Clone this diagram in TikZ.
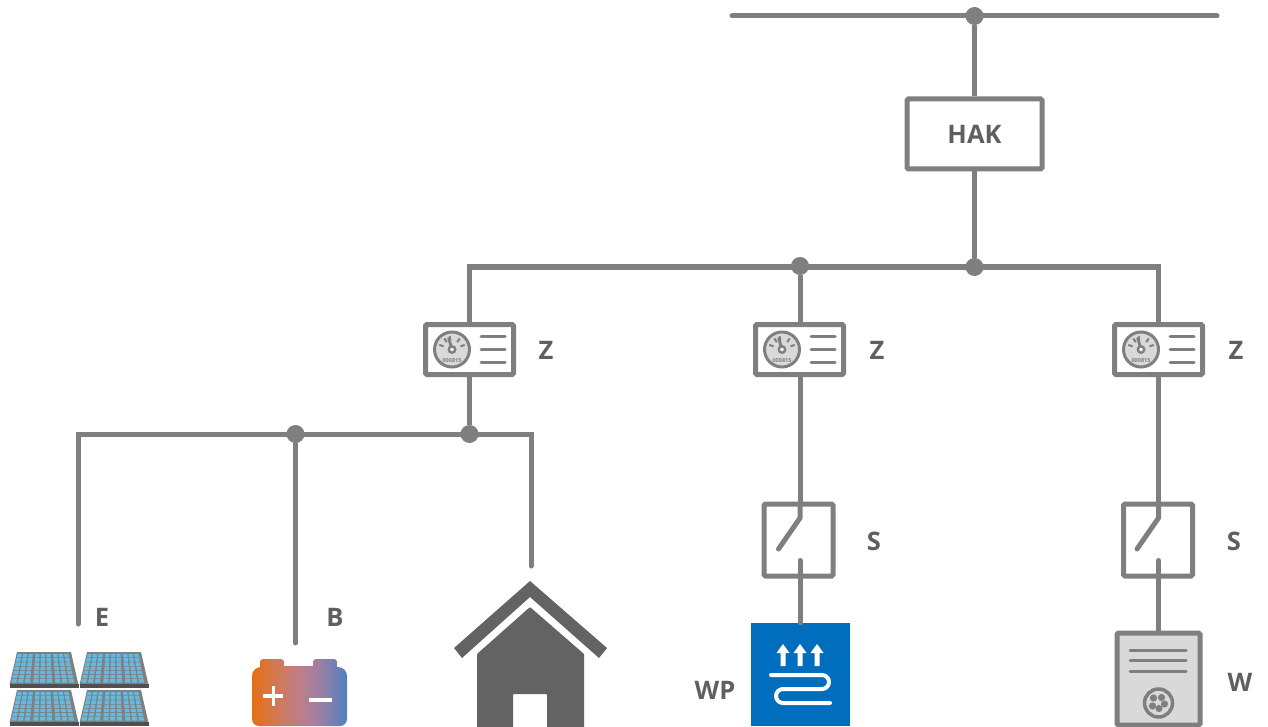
\documentclass[tikz,border=0pt]{standalone}
\usepackage{fontspec}
\usetikzlibrary{calc}
\setmainfont{Open Sans}
\definecolor{wire}{HTML}{7F7F7F}
\definecolor{txt}{HTML}{5F5F5F}
\definecolor{lightg}{HTML}{D9D9D9}
\definecolor{housec}{HTML}{636363}
\definecolor{wpblue}{HTML}{006EBD}
\definecolor{cell}{HTML}{62BBE2}
\definecolor{panelg}{HTML}{808080}
\definecolor{paneld}{HTML}{505050}
\definecolor{batta}{HTML}{E66F14}
\definecolor{battc}{HTML}{CE7A5E}
\definecolor{battm}{HTML}{BC7F88}
\definecolor{battd}{HTML}{9F7FA2}
\definecolor{battb}{HTML}{4F81BD}
\pgfdeclarehorizontalshading{battshade}{100bp}{color(0bp)=(batta); color(25bp)=(batta); color(40bp)=(battc); color(50bp)=(battm); color(60bp)=(battd); color(75bp)=(battb); color(100bp)=(battb)}
\tikzset{
  x=1pt,y=-1pt,
  wireline/.style={draw=wire,line width=5pt},
  dotnode/.style={circle,fill=wire,inner sep=0pt,minimum size=18pt},
  boxnode/.style={draw=wire,line width=5pt,rounded corners=1.5pt,fill=white,inner sep=0pt},
  lab/.style={text=txt,font=\fontsize{25.5}{28}\selectfont\bfseries,inner sep=0pt},
  thinrule/.style={draw=wire,line width=3pt,line cap=round},
  meterdial/.pic={
    \draw[draw=wire,line width=3pt,fill=lightg] (0,0) circle (17.5);
    \foreach \a in {-20,-55,-100,-125,-160}
      \draw[draw=wire,line width=2pt] (\a:13.5) -- (\a:9);
    \draw[draw=wire,line width=2.8pt] (0,0) -- (-3.5,-12);
    \draw[draw=wire,line width=2.4pt,fill=white] (0,0) circle (3.2);
    \node[text=wire,font=\fontsize{5.5}{6}\selectfont\bfseries,inner sep=0pt] at (0,11) {000815};
  },
  meterrules/.pic={
    \foreach \y in {-13,0,13}
      \draw[thinrule] (0,\y) -- (24,\y);
  },
  solarpanel/.pic={
    \fill[panelg] (7.5,0) -- (61.5,0) -- (69,33) -- (0,33) -- cycle;
    \fill[paneld] (0,32) -- (69,32) -- (69,36) -- (0,36) -- cycle;
    \foreach \r in {0,...,6}{
      \foreach \c in {0,...,8}{
        \pgfmathsetmacro{\ta}{(2+4.2*\r)/32}
        \pgfmathsetmacro{\tb}{(5.4+4.2*\r)/32}
        \pgfmathsetmacro{\ca}{\c*(6.9)+int(\c/3)*1.6+1.4}
        \pgfmathsetmacro{\cb}{\ca+5.2}
        \pgfmathsetmacro{\xa}{7.5*(1-\ta)+\ca*(54/69)*(1-\ta)+\ta*\ca}
        \pgfmathsetmacro{\xb}{7.5*(1-\ta)+\cb*(54/69)*(1-\ta)+\ta*\cb}
        \pgfmathsetmacro{\xc}{7.5*(1-\tb)+\cb*(54/69)*(1-\tb)+\tb*\cb}
        \pgfmathsetmacro{\xd}{7.5*(1-\tb)+\ca*(54/69)*(1-\tb)+\tb*\ca}
        \fill[cell] (\xa,{\ta*32}) -- (\xb,{\ta*32}) -- (\xc,{\tb*32}) -- (\xd,{\tb*32}) -- cycle;
      }
    }
  },
  uparrow/.pic={
    \fill[white] (0,0) -- (6.5,9) -- (2.5,9) -- (2.5,22) -- (-2.5,22) -- (-2.5,9) -- (-6.5,9) -- cycle;
  },
}
\begin{document}
\begin{tikzpicture}
\useasboundingbox (0,0) rectangle (1268,727);
\clip (0,0) rectangle (1268,727);

% anchors of the free ends
\coordinate (busL) at (732,16);
\coordinate (busR) at (1217,16);
\coordinate (feedL) at (469.5,267);
\coordinate (feedR) at (1158.5,267);
\coordinate (loadL) at (78,434);
\coordinate (loadR) at (531,434);
\coordinate (endE) at (78,624);
\coordinate (endB) at (295.5,643);
\coordinate (endH) at (531,566);

% nodes
\node[dotnode] (dbus) at (974.5,16) {};
\node[boxnode,minimum width=135pt,minimum height=70pt] (hak) at (974.5,134) {};
\node[dotnode] (dfeedA) at (974.5,267) {};
\node[dotnode] (dfeedB) at (800,266) {};
\node[dotnode] (dloadA) at (295.5,434) {};
\node[dotnode] (dloadB) at (469.5,434) {};

% connectors
\draw[wireline,line cap=round] (busL) -- (busR);
\draw[wireline] (dbus) -- (hak);
\draw[wireline] (hak) -- (dfeedA);
\draw[wireline] (469.5,349) -- (feedL) -- (feedR) -- (1158.5,349);
\draw[wireline] (dfeedB) -- (800,349);
\draw[wireline] (469.5,349) -- (dloadB);
\draw[wireline,line cap=round] (endE) -- (loadL) -- (loadR) -- (endH);
\draw[wireline,line cap=round] (dloadA) -- (endB);
\draw[wireline] (800,349) -- (800,518);
\draw[wireline] (1158.5,349) -- (1158.5,518);

% meters
\foreach \n/\x in {m1/469.5,m2/799.5,m3/1158.5}{
  \node[boxnode,minimum width=88pt,minimum height=50pt] (\n) at (\x,349.5) {};
  \pic at ($(\n.center)+(-17.5,0)$) {meterdial};
  \pic at ($(\n.center)+(11.5,0)$) {meterrules};
}

% switches
\foreach \n/\bx/\x in {s1/798.5/800,s2/1158/1158.5}{
  \node[boxnode,minimum width=69pt,minimum height=72pt] (\n) at (\bx,540) {};
  \draw[draw=wire,line width=5pt,line cap=round,line join=round] (\x,503) -- (\x,518) -- (\x-21.5,549);
  \coordinate (\n-low) at (\x,560.5);
}

% heat pump
\node[fill=wpblue,inner sep=0pt,minimum width=99pt,minimum height=103pt] (wp) at (800.5,674.5) {};
\draw[wireline,line cap=round] (s1-low) -- (s1-low |- wp.north);
\foreach \x in {783,800,817} \pic at (\x,644) {uparrow};
\draw[white,line width=4pt,line cap=round,line join=round]
  (771,675) -- (822,675) arc[start angle=-90,end angle=90,radius=7] -- (783,689)
  arc[start angle=270,end angle=90,radius=7] -- (830,703);

% wall box
\node[draw=wire,fill=lightg,line width=5pt,rounded corners=1.5pt,inner sep=0pt,minimum width=83pt,minimum height=92pt] (w) at (1158.5,679) {};
\draw[wireline,line cap=round] (s2-low) -- (s2-low |- w.north);
\foreach \y in {650,660.5,671} \draw[thinrule] (1130,\y) -- (1186,\y);
\draw[draw=wire,line width=3.5pt,fill=lightg] (1158.5,703) circle (14);
\foreach \dx/\dy in {-5/-5,3/-5.5,-6/3,6/1,0.5/5.5} \fill[wire] (1158.5+\dx,703+\dy) circle (3.6);

% house
\fill[housec] (530,581) -- (607,648) -- (599,658) -- (530,597) -- (462,658) -- (454,648) -- cycle;
\fill[housec,even odd rule,rounded corners=0.8pt] (530,607) -- (584,654) -- (584,730) -- (477,730) -- (477,654) -- cycle
  (513,694) -- (547,694) -- (547,730) -- (513,730) -- cycle;

% battery
\shade[shading=battshade]
  (252,676) arc[start angle=180,end angle=270,radius=9] -- (260,667)
  -- (260,662) arc[start angle=180,end angle=270,radius=3] -- (281,659) arc[start angle=270,end angle=360,radius=3]
  -- (284,666) -- (313,666)
  -- (313,662) arc[start angle=180,end angle=270,radius=3] -- (334,659) arc[start angle=270,end angle=360,radius=3]
  -- (337,667) -- (338,667) arc[start angle=270,end angle=360,radius=9]
  -- (347,719) arc[start angle=0,end angle=90,radius=7] -- (259,726) arc[start angle=90,end angle=180,radius=7] -- cycle;
\draw[white,line width=3.6pt] (263,696) -- (283,696);
\draw[white,line width=3.6pt] (273.5,686) -- (273.5,706);
\draw[white,line width=3.6pt] (309,700) -- (332,700);

% solar panels
\foreach \x/\y in {9.5/652,79.5/652,9.5/690,79.5/690}
  \pic at (\x,\y) {solarpanel};

% labels
\node[lab] (thak) at (974.5,134.5) {HAK};
\node[lab] (tz1) at (546,350) {Z};
\node[lab] (tz2) at (877,350) {Z};
\node[lab] (tz3) at (1236,350) {Z};
\node[lab] (ts1) at (874,541) {S};
\node[lab] (ts2) at (1234,541) {S};
\node[lab] (te) at (102,617) {E};
\node[lab] (tb) at (335,617) {B};
\node[lab] (twp) at (715,690) {WP};
\node[lab] (tw) at (1240,682) {W};
\end{tikzpicture}
\end{document}
